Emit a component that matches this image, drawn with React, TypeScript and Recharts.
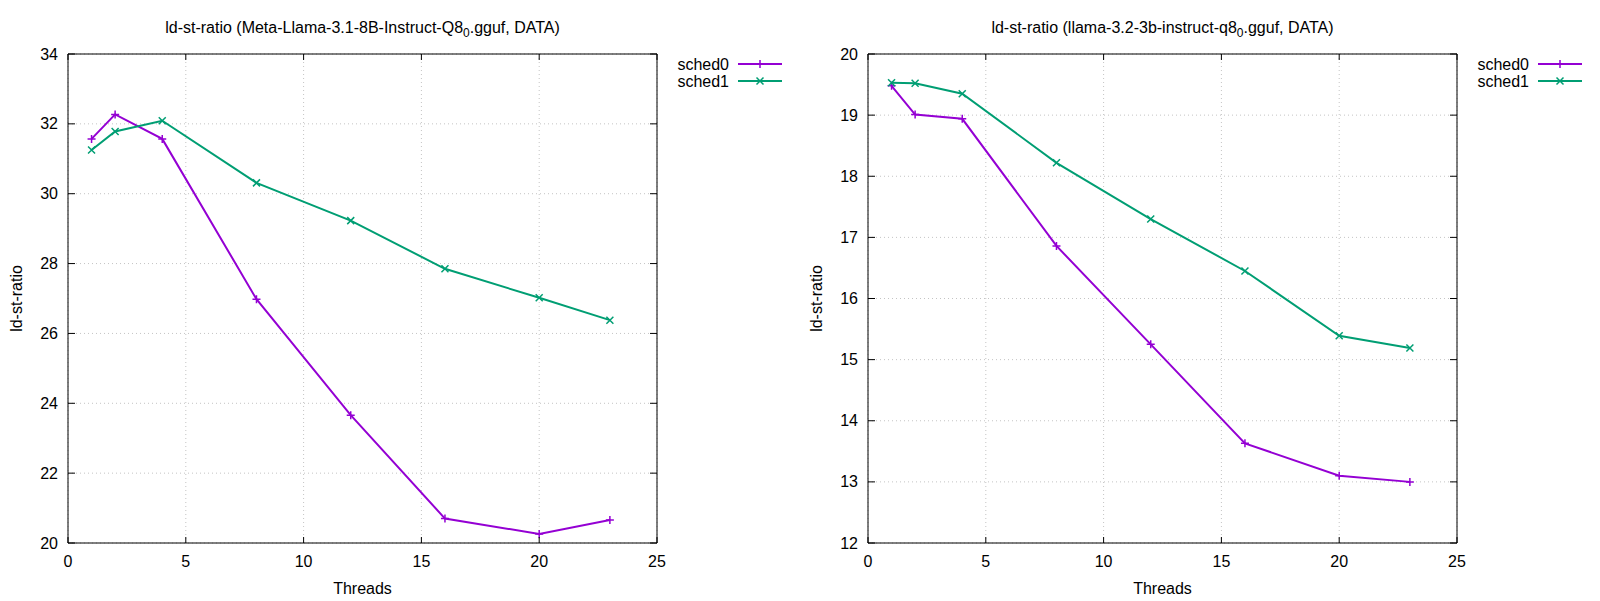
import React from 'react';
import { LineChart, Line, XAxis, YAxis, CartesianGrid, ReferenceLine, Label } from 'recharts';

// threads used in every run
const threads = [1, 2, 4, 8, 12, 16, 20, 23];

// ld-st-ratio, Meta-Llama-3.1-8B-Instruct-Q8_0
const llama8bSched0 = [31.57, 32.27, 31.57, 26.98, 23.66, 20.70, 20.26, 20.66];
const llama8bSched1 = [31.25, 31.78, 32.09, 30.31, 29.23, 27.85, 27.02, 26.38];

// ld-st-ratio, llama-3.2-3b-instruct-q8_0
const llama3bSched0 = [19.48, 19.01, 18.94, 16.86, 15.25, 13.63, 13.10, 13.00];
const llama3bSched1 = [19.53, 19.52, 19.35, 18.22, 17.30, 16.45, 15.39, 15.19];

const seriesNames = ['sched0', 'sched1'];
const xTicks = [0, 5, 10, 15, 20, 25];
const yTicks8b = [20, 22, 24, 26, 28, 30, 32, 34];
const yTicks3b = [12, 13, 14, 15, 16, 17, 18, 19, 20];

const W = 800;
const H = 601;
const MARGIN = { top: 54, right: 143, left: 0, bottom: 0 };
const Y_AXIS_W = 68;
const X_AXIS_H = 58;
const PLOT_TOP = MARGIN.top;
const PLOT_RIGHT = W - MARGIN.right;
const PLOT_LEFT = MARGIN.left + Y_AXIS_W;
const FONT = '"Liberation Sans", Arial, sans-serif';
const FS = 16;

const COLORS = ['#9400d3', '#009e73'];

const BottomTick = (props: any) => {
  const { x, y, payload } = props;
  return (
    <g>
      <line x1={x} y1={y} x2={x} y2={y - 6} stroke="#000" />
      <line x1={x} y1={PLOT_TOP} x2={x} y2={PLOT_TOP + 6} stroke="#000" />
      <text x={x} y={y + 24} textAnchor="middle" fontFamily={FONT} fontSize={FS} fill="#000">
        {payload.value}
      </text>
    </g>
  );
};

const LeftTick = (props: any) => {
  const { x, y, payload } = props;
  return (
    <g>
      <line x1={x} y1={y} x2={x + 7} y2={y} stroke="#000" />
      <line x1={PLOT_RIGHT} y1={y} x2={PLOT_RIGHT - 7} y2={y} stroke="#000" />
      <text x={x - 10} y={y + 5.5} textAnchor="end" fontFamily={FONT} fontSize={FS} fill="#000">
        {payload.value}
      </text>
    </g>
  );
};

const PlusDot = (props: any) => {
  const { cx, cy, stroke, index } = props;
  if (cx == null || cy == null) return <g key={index} />;
  return (
    <path key={index} d={`M${cx - 4},${cy}h8M${cx},${cy - 4}v8`} stroke={stroke} strokeWidth={1.5} fill="none" />
  );
};

const CrossDot = (props: any) => {
  const { cx, cy, stroke, index } = props;
  if (cx == null || cy == null) return <g key={index} />;
  return (
    <path
      key={index}
      d={`M${cx - 3.5},${cy - 3.5}l7,7M${cx - 3.5},${cy + 3.5}l7,-7`}
      stroke={stroke}
      strokeWidth={1.5}
      fill="none"
    />
  );
};

const dots = [PlusDot, CrossDot];

interface PanelProps {
  model: string;
  s0: number[];
  s1: number[];
  yTicks: number[];
}

const Panel: React.FC<PanelProps> = ({ model, s0, s1, yTicks }) => {
  const data = threads.map((t, i) => ({ threads: t, sched0: s0[i], sched1: s1[i] }));
  const yMin = yTicks[0];
  const yMax = yTicks[yTicks.length - 1];
  const cx = (PLOT_LEFT + PLOT_RIGHT) / 2;

  return (
    <div style={{ position: 'relative', width: W, height: H }}>
      <LineChart width={W} height={H} data={data} margin={MARGIN}>
        <CartesianGrid stroke="#c4c4c4" strokeDasharray="1 3" />
        <XAxis
          dataKey="threads"
          type="number"
          domain={[0, 25]}
          ticks={xTicks}
          height={X_AXIS_H}
          tickSize={0}
          tickMargin={0}
          tickLine={false}
          axisLine={{ stroke: '#000' }}
          tick={<BottomTick />}
          interval={0}
        >
          <Label value="Threads" position="insideBottom" offset={7} fontFamily={FONT} fontSize={FS} fill="#000" />
        </XAxis>
        <YAxis
          type="number"
          domain={[yMin, yMax]}
          ticks={yTicks}
          width={Y_AXIS_W}
          tickSize={0}
          tickMargin={0}
          tickLine={false}
          axisLine={{ stroke: '#000' }}
          tick={<LeftTick />}
          interval={0}
        >
          <Label
            value="ld-st-ratio"
            angle={-90}
            position="insideLeft"
            offset={16}
            style={{ textAnchor: 'middle' }}
            fontFamily={FONT}
            fontSize={FS}
            fill="#000"
          />
        </YAxis>
        <ReferenceLine y={yMax} stroke="#000" />
        <ReferenceLine x={25} stroke="#000" />
        {seriesNames.map((name, i) => (
          <Line
            key={name}
            dataKey={name}
            type="linear"
            stroke={COLORS[i]}
            strokeWidth={2}
            dot={dots[i]}
            activeDot={false}
            isAnimationActive={false}
          />
        ))}
      </LineChart>
      <svg
        width={W}
        height={H}
        style={{ position: 'absolute', left: 0, top: 0, pointerEvents: 'none' }}
        fontFamily={FONT}
        fontSize={FS}
      >
        <text x={cx} y={33} textAnchor="middle" fill="#000">
          ld-st-ratio ({model}
          <tspan dy={4} fontSize={12}>0</tspan>
          <tspan dy={-4}>.gguf, DATA)</tspan>
        </text>
        {seriesNames.map((name, i) => {
          const ry = 64 + i * 17;
          const D = dots[i];
          return (
            <g key={name}>
              <text x={729} y={ry + 5.5} textAnchor="end" fill="#000">
                {name}
              </text>
              <line x1={738} y1={ry} x2={782} y2={ry} stroke={COLORS[i]} strokeWidth={2} />
              <D cx={760} cy={ry} stroke={COLORS[i]} index={0} />
            </g>
          );
        })}
      </svg>
    </div>
  );
}

export default function App() {
  return (
    <div
      style={{
        position: 'absolute',
        left: 0,
        top: 0,
        width: 1600,
        height: 601,
        background: '#fff',
        display: 'flex',
      }}
    >
      <Panel model="Meta-Llama-3.1-8B-Instruct-Q8" s0={llama8bSched0} s1={llama8bSched1} yTicks={yTicks8b} />
      <Panel model="llama-3.2-3b-instruct-q8" s0={llama3bSched0} s1={llama3bSched1} yTicks={yTicks3b} />
    </div>
  );
}
